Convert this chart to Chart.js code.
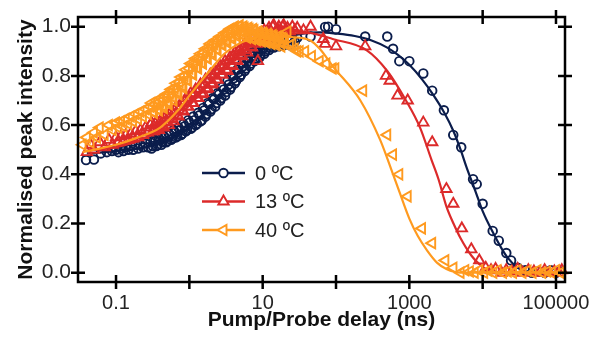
<!DOCTYPE html>
<html>
<head>
<meta charset="utf-8">
<script src="https://cdn.jsdelivr.net/npm/chart.js@4.4.1/dist/chart.umd.min.js"></script>
<style>
html,body{margin:0;padding:0;background:#fff;}
canvas{display:block;}
</style>
</head>
<body>
<canvas id="c" width="600" height="345"></canvas>
<script>
// ---------- data ----------
const seriesLabels = ['0 \u00baC', '13 \u00baC', '40 \u00baC'];
const seriesColors = ['#0b1d4c', '#dc2a2a', '#ff9a1f'];

// densely sampled rise region (shared delay grid, ns)
const denseDelays = [0.1,0.108,0.117,0.126,0.136,0.147,0.159,0.171,0.185,0.2,0.216,0.233,0.252,0.272,0.294,0.317,0.343,0.37,0.4,0.432,0.466,0.504,0.544,0.587,0.634,0.685,0.74,0.799,0.863,0.932,1.0,1.09,1.17,1.27,1.37,1.48,1.6,1.72,1.86,2.01,2.17,2.34,2.53,2.73,2.95,3.19,3.44,3.72,4.02,4.34,4.69,5.06,5.47,5.9,6.38,6.89,7.44,8.03,8.67,9.37,10.1,10.9,11.8,12.7,13.7,14.8,16.0,17.3,18.7,20.2,21.8,23.5,25.4,27.4,29.6];
const densePeak0C  = [0.50,0.49,0.505,0.495,0.51,0.50,0.515,0.50,0.52,0.505,0.52,0.51,0.525,0.51,0.53,0.515,0.535,0.52,0.54,0.53,0.55,0.535,0.56,0.545,0.57,0.555,0.58,0.565,0.595,0.58,0.61,0.59,0.62,0.605,0.64,0.62,0.66,0.645,0.685,0.665,0.705,0.69,0.725,0.71,0.745,0.735,0.765,0.755,0.79,0.78,0.815,0.805,0.84,0.83,0.86,0.85,0.88,0.87,0.895,0.885,0.91,0.90,0.925,0.915,0.935,0.92,0.94,0.93,0.945,0.93,0.95,0.925,0.95,0.94,0.955];
const densePeak13C = [0.55,0.53,0.555,0.535,0.56,0.54,0.565,0.545,0.575,0.55,0.58,0.56,0.59,0.57,0.60,0.575,0.605,0.585,0.615,0.595,0.63,0.61,0.645,0.625,0.66,0.64,0.675,0.66,0.695,0.675,0.71,0.69,0.725,0.71,0.745,0.725,0.765,0.745,0.785,0.765,0.80,0.785,0.82,0.805,0.84,0.825,0.86,0.845,0.88,0.865,0.90,0.885,0.915,0.905,0.935,0.92,0.95,0.935,0.96,0.945,0.97,0.955,0.98,0.965,1.0,0.975,0.99,0.98,1.0,0.985,0.995,0.98,1.0,0.985,0.995];
const densePeak40C = [0.61,0.59,0.615,0.595,0.625,0.605,0.635,0.615,0.645,0.625,0.655,0.635,0.665,0.645,0.675,0.655,0.685,0.665,0.695,0.68,0.715,0.695,0.73,0.715,0.75,0.735,0.775,0.76,0.80,0.785,0.83,0.81,0.85,0.835,0.87,0.855,0.895,0.875,0.91,0.895,0.93,0.91,0.945,0.93,0.96,0.945,0.975,0.96,0.99,0.97,1.0,0.98,1.0,0.975,0.995,0.97,0.99,0.96,0.98,0.955,0.975,0.95,0.97,0.945,0.965,0.94,0.96,0.935,0.955,0.93,0.98,0.925,0.93,0.91,0.90];

// second interleaved grid in the steep part of the rise
const midDelays = [0.305,0.33,0.356,0.385,0.416,0.449,0.485,0.524,0.565,0.61,0.659,0.712,0.769,0.831,0.897,0.966,1.045,1.13,1.22,1.32,1.42,1.54,1.66,1.79,1.93,2.09,2.25,2.43,2.63,2.84,3.07,3.31,3.58,3.87,4.18,4.51,4.87,5.26,5.68,6.14,6.63,7.16,7.73,8.35,9.02,9.73,10.5,11.3,12.2,13.2,14.2,15.4,16.6,18.0,19.4];
const midPeak0C  = [0.505,0.54,0.515,0.545,0.52,0.555,0.53,0.565,0.54,0.58,0.55,0.59,0.56,0.605,0.575,0.62,0.585,0.635,0.60,0.65,0.615,0.67,0.635,0.69,0.655,0.71,0.675,0.73,0.70,0.755,0.72,0.78,0.745,0.80,0.77,0.825,0.795,0.85,0.82,0.87,0.84,0.895,0.86,0.91,0.875,0.925,0.89,0.935,0.905,0.945,0.915,0.95,0.92,0.955,0.925];
const midPeak13C = [0.61,0.575,0.615,0.58,0.625,0.59,0.64,0.60,0.655,0.615,0.675,0.635,0.69,0.655,0.71,0.675,0.73,0.69,0.745,0.71,0.765,0.73,0.785,0.75,0.805,0.77,0.82,0.785,0.84,0.805,0.86,0.82,0.875,0.84,0.895,0.86,0.91,0.88,0.93,0.895,0.945,0.915,0.96,0.93,0.97,0.945,0.985,0.955,0.995,0.965,1.005,0.975,1.0,0.98,1.005];
const midPeak40C = [0.69,0.65,0.70,0.66,0.71,0.67,0.725,0.685,0.745,0.70,0.77,0.725,0.795,0.75,0.825,0.78,0.85,0.805,0.87,0.83,0.89,0.85,0.91,0.87,0.93,0.885,0.945,0.905,0.96,0.925,0.975,0.935,0.99,0.95,1.0,0.96,1.005,0.965,0.995,0.955,0.99,0.95,0.985,0.945,0.975,0.94,0.97,0.935,0.965,0.93,0.96,0.925,0.955,0.92,0.95];

// early and late points of each series
const delay0C = [0.039,0.05,0.062,0.075,0.088,45,71,78,100,250,500,600,730,1000,1550,2050,2960,3970,5100,7400,8300,10000,13700,16600,21000,24400,30000,38000,47000,58000,70000,85000,100000,115000];
const peak0C  = [0.458,0.46,0.485,0.49,0.495,0.96,0.999,1.0,0.99,0.96,0.96,0.91,0.86,0.86,0.81,0.74,0.66,0.56,0.51,0.38,0.36,0.28,0.17,0.13,0.08,0.05,0.02,0.01,0.0,0.005,0.0,0.01,0.0,0.005];

const delay13C = [0.04,0.045,0.05,0.06,0.07,0.08,0.09,8.6,36,45,67,71,100,250,480,540,690,950,1550,2050,3200,3970,5200,7000,9000,11000,13000,15000,18000,21000,25000,30000,35000,42000,50000,60000,70000,82000,95000,110000,120000];
const peak13C  = [0.49,0.52,0.50,0.53,0.51,0.54,0.52,0.86,0.985,1.0,0.95,0.93,0.92,0.92,0.80,0.78,0.72,0.70,0.61,0.53,0.34,0.28,0.18,0.095,0.05,0.02,0.01,0.015,0.0,0.01,0.005,0.015,0.0,0.01,0.005,0.0,0.01,0.0,0.005,0.0,0.01];

const delay40C = [0.035,0.04,0.045,0.05,0.055,0.06,0.07,0.08,0.09,32,38,47,60,74,90,98,235,500,600,730,950,1490,2050,3100,4000,5000,5800,6700,7800,9000,10500,12000,14000,16000,19000,22000,26000,30000,35000,41000,48000,56000,65000,76000,88000,100000,115000];
const peak40C  = [0.52,0.55,0.53,0.57,0.55,0.59,0.56,0.60,0.58,0.90,0.90,0.88,0.86,0.85,0.83,0.83,0.74,0.56,0.48,0.40,0.31,0.18,0.12,0.05,0.02,0.0,0.01,0.005,0.0,0.01,0.0,0.008,0.0,0.01,0.0,0.005,0.0,0.01,0.0,0.008,0.0,0.01,0.0,0.005,0.0,0.01,0.0];

// fitted curves
const fitDelay0C = [0.04,0.07,0.1,0.2,0.3,0.5,0.7,1,1.5,2,3,4,6,8,12,20,35,60,100,180,300,500,700,1000,1500,2100,3000,4000,5000,6000,8000,10000,14000,18000,22000,30000,40000,70000,130000];
const fitPeak0C  = [0.485,0.49,0.495,0.505,0.515,0.535,0.56,0.59,0.635,0.68,0.745,0.79,0.85,0.885,0.925,0.955,0.972,0.977,0.972,0.962,0.945,0.915,0.885,0.845,0.785,0.725,0.65,0.575,0.50,0.43,0.33,0.25,0.16,0.10,0.06,0.02,0.005,0.0,0.0];
const fitDelay13C = [0.04,0.1,0.2,0.4,0.7,1,1.5,2,3,5,8,12,20,30,45,90,260,500,900,1400,2000,2500,3200,4000,5000,7000,9000,12000,20000,130000];
const fitPeak13C  = [0.495,0.51,0.535,0.58,0.635,0.68,0.735,0.78,0.84,0.905,0.945,0.965,0.978,0.98,0.975,0.95,0.905,0.82,0.70,0.59,0.46,0.38,0.27,0.20,0.14,0.07,0.035,0.01,0.0,0.0];
const fitDelay40C = [0.035,0.1,0.2,0.4,0.7,1,2,3,5,8,15,25,44,60,90,215,400,500,600,750,1000,1300,1750,2400,3200,5000,130000];
const fitPeak40C  = [0.49,0.52,0.55,0.59,0.66,0.72,0.83,0.89,0.935,0.955,0.96,0.958,0.945,0.91,0.84,0.70,0.54,0.465,0.40,0.32,0.22,0.15,0.09,0.04,0.015,0.0,0.0];

const xTickValues = [0.1, 1, 10, 100, 1000, 10000, 100000];
const xTickLabels = ['0.1', '', '10', '', '1000', '', '100000'];
const yTickValues = [0, 0.2, 0.4, 0.6, 0.8, 1.0];

// ---------- build ----------
const toXY = (xs, ys) => xs.map((x, i) => ({x: x, y: ys[i]}));
const FONT = "'Liberation Sans', Arial, sans-serif";

const markerStyles = [
  {pointStyle: 'circle', rotation: 0, radius: 4.3},
  {pointStyle: 'triangle', rotation: 0, radius: 6},
  {pointStyle: 'triangle', rotation: -90, radius: 6}
];

const fits = [[fitDelay0C, fitPeak0C], [fitDelay13C, fitPeak13C], [fitDelay40C, fitPeak40C]];
const pts = [
  toXY(delay0C, peak0C).concat(toXY(denseDelays, densePeak0C), toXY(midDelays, midPeak0C)),
  toXY(delay13C, peak13C).concat(toXY(denseDelays, densePeak13C), toXY(midDelays, midPeak13C)),
  toXY(delay40C, peak40C).concat(toXY(denseDelays, densePeak40C), toXY(midDelays, midPeak40C))
];

const datasets = [];
for (let i = 0; i < 3; i++) {
  datasets.push({
    label: seriesLabels[i] + ' fit',
    data: toXY(fits[i][0], fits[i][1]),
    showLine: true,
    borderColor: seriesColors[i],
    borderWidth: 2.2,
    pointRadius: 0,
    cubicInterpolationMode: 'monotone',
    fill: false,
    order: 6 - 2 * i,
    clip: false
  });
  datasets.push({
    label: seriesLabels[i],
    data: pts[i],
    showLine: false,
    borderColor: seriesColors[i],
    backgroundColor: 'rgba(0,0,0,0)',
    borderWidth: 1.9,
    pointStyle: markerStyles[i].pointStyle,
    rotation: markerStyles[i].rotation,
    pointRadius: markerStyles[i].radius,
    order: 5 - 2 * i,
    clip: false
  });
}

// axes frame with crossing tick marks
const framePlugin = {
  id: 'frame',
  afterDraw(chart) {
    const {ctx, chartArea: a, scales} = chart;
    ctx.save();
    ctx.strokeStyle = '#000';
    ctx.lineWidth = 2.5;
    ctx.lineCap = 'butt';
    ctx.strokeRect(a.left, a.top, a.right - a.left, a.bottom - a.top);
    const tin = 7, tout = 7;
    ctx.beginPath();
    xTickValues.forEach(v => {
      const px = scales.x.getPixelForValue(v);
      ctx.moveTo(px, a.bottom - tin); ctx.lineTo(px, a.bottom + tout);
      ctx.moveTo(px, a.top - tout); ctx.lineTo(px, a.top + tin);
    });
    yTickValues.forEach(v => {
      const py = scales.y.getPixelForValue(v);
      ctx.moveTo(a.left - tout, py); ctx.lineTo(a.left + tin, py);
      ctx.moveTo(a.right - tin, py); ctx.lineTo(a.right + tout, py);
    });
    ctx.stroke();
    ctx.restore();
  }
};

// in-plot legend
const legendPlugin = {
  id: 'inlegend',
  afterDraw(chart) {
    const ctx = chart.ctx;
    const x0 = 202, x1 = 245, tx = 255, y0 = 173, dy = 28.5;
    ctx.save();
    for (let i = 0; i < 3; i++) {
      const y = y0 + i * dy;
      ctx.strokeStyle = seriesColors[i];
      ctx.lineWidth = 2.5;
      ctx.beginPath(); ctx.moveTo(x0, y); ctx.lineTo(x1, y); ctx.stroke();
      const cx = (x0 + x1) / 2;
      const opts = {
        pointStyle: markerStyles[i].pointStyle,
        rotation: markerStyles[i].rotation,
        radius: i === 0 ? 4.3 : 6,
        borderWidth: 1.9
      };
      ctx.fillStyle = '#fff';
      ctx.lineWidth = 1.9;
      Chart.helpers.drawPoint(ctx, opts, cx, y);
      ctx.fillStyle = '#222';
      ctx.font = '20px ' + FONT;
      ctx.textBaseline = 'middle';
      ctx.textAlign = 'left';
      ctx.fillText(seriesLabels[i], tx, y + 1);
    }
    ctx.restore();
  }
};

new Chart(document.getElementById('c'), {
  type: 'scatter',
  data: {datasets: datasets},
  options: {
    responsive: false,
    animation: false,
    devicePixelRatio: 1,
    layout: {padding: {top: 17, right: 35, left: 0, bottom: 0}},
    plugins: {legend: {display: false}, tooltip: {enabled: false}},
    scales: {
      x: {
        type: 'logarithmic',
        position: 'bottom',
        min: 0.0303,
        max: 132700,
        grid: {display: false, drawTicks: false},
        border: {display: false},
        afterBuildTicks(scale) {
          scale.ticks = xTickValues.map(v => ({value: v}));
        },
        afterFit(scale) {
          scale.height = 63;
          scale.paddingLeft = 0; scale.paddingRight = 0;
        },
        ticks: {
          autoSkip: false,
          maxRotation: 0,
          padding: 9,
          color: '#222',
          font: {family: FONT, size: 20},
          callback: (v) => { const k = xTickValues.indexOf(v); return k >= 0 ? xTickLabels[k] : ''; }
        },
        title: {
          display: true,
          text: 'Pump/Probe delay (ns)',
          color: '#111',
          font: {family: FONT, size: 21, weight: 'bold'},
          padding: {top: 0, bottom: 12}
        }
      },
      y: {
        type: 'linear',
        min: -0.0378,
        max: 1.0394,
        grid: {display: false, drawTicks: false},
        border: {display: false},
        afterBuildTicks(scale) {
          scale.ticks = yTickValues.map(v => ({value: v}));
        },
        afterFit(scale) {
          scale.width = 78;
          scale.paddingTop = 0; scale.paddingBottom = 0;
        },
        ticks: {
          padding: 7,
          color: '#222',
          font: {family: FONT, size: 21},
          callback: (v) => Number(v).toFixed(1)
        },
        title: {
          display: true,
          text: 'Normalised peak intensity',
          color: '#111',
          font: {family: FONT, size: 21, weight: 'bold'},
          padding: {top: 14, bottom: 0}
        }
      }
    }
  },
  plugins: [framePlugin, legendPlugin]
});
</script>
</body>
</html>
